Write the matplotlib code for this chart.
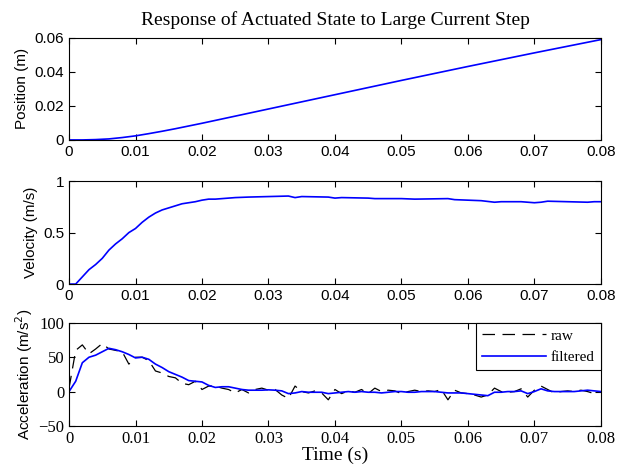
import numpy as np
import matplotlib
matplotlib.use("Agg")
import matplotlib.pyplot as plt

# time base (s)
t_pos = [0, 0.002, 0.004, 0.006, 0.008, 0.010, 0.012, 0.014, 0.016, 0.018, 0.020,
         0.025, 0.030, 0.035, 0.040, 0.045, 0.050, 0.055, 0.060, 0.065, 0.070, 0.075, 0.080]
position = [0, 0.0, 0.0002, 0.0006, 0.0014, 0.0024, 0.0037, 0.0051, 0.0066, 0.0082, 0.0098,
            0.0140, 0.0182, 0.0224, 0.0266, 0.0308, 0.0350, 0.0391, 0.0432, 0.0472, 0.0512, 0.0551, 0.0590]

t_vel = [0, 0.001, 0.002, 0.003, 0.004, 0.005, 0.006, 0.007, 0.008, 0.009, 0.010, 0.011,
         0.012, 0.013, 0.014, 0.015, 0.016, 0.017, 0.018, 0.019, 0.020, 0.021, 0.022, 0.023,
         0.025, 0.027, 0.030, 0.033, 0.034, 0.035, 0.039, 0.040, 0.041, 0.045, 0.046, 0.050,
         0.052, 0.057, 0.058, 0.060, 0.062, 0.064, 0.065, 0.068, 0.070, 0.071, 0.072, 0.075,
         0.078, 0.079, 0.080]
velocity = [0, 0, 0.07, 0.14, 0.19, 0.25, 0.33, 0.39, 0.44, 0.50, 0.54, 0.60,
            0.65, 0.69, 0.72, 0.74, 0.76, 0.78, 0.79, 0.80, 0.815, 0.825, 0.825, 0.83,
            0.84, 0.845, 0.85, 0.855, 0.84, 0.85, 0.845, 0.835, 0.84, 0.835, 0.83, 0.83,
            0.825, 0.83, 0.82, 0.815, 0.81, 0.795, 0.80, 0.80, 0.79, 0.795, 0.805, 0.80,
            0.795, 0.80, 0.80]

t_acc = [i / 1000 for i in range(81)]
acc_raw = [5, 60, 68, 55, 62, 70, 62, 60, 58, 40, 50, 50, 45, 30, 27, 22, 20, 12, 10, 15,
           3, 8, 8, 5, 3, -2, 3, -2, 3, 5, 2, 3, -5, -10, 8, 0, -2, 1, -2, -12,
           3, -3, 1, -1, 3, -3, 5, 0, 2, 1, -3, 0, 2, 0, 1, 0, 3, -12, 2, -2,
           -3, -5, -8, -5, 5, 0, -1, 0, 4, -8, 2, 8, 3, -2, 0, 1, 0, 2, 0, -3, 0]
acc_filt = [0, 15, 42, 50, 53, 58, 63, 61, 58, 54, 49, 50, 47, 40, 35, 29, 25, 21, 16, 15,
            14, 9, 6, 7, 7, 5, 3, 2, 2, 2, 2.5, 2, 1, -3, -2, 0, -1, -1, -1, -3,
            -2, -1, 0, -1, 0, -1, -1, -2, -1, 0, 0, -1, -1, 0, 0, 0, -1, -2, -2, -2,
            -3, -4, -5, -6, -1, -1, 0, 0, 1, -3, 0, 4, 1, 0, 0, 0, 0, 1, 2, 1, 0]

sans = "Liberation Sans"
serif = "Liberation Serif"
plt.rcParams['font.family'] = sans
plt.rcParams['font.size'] = 11

fig = plt.figure(figsize=(6.22, 4.68), dpi=100)
ax1 = fig.add_axes([0.111, 0.701, 0.855, 0.218])
ax2 = fig.add_axes([0.111, 0.393, 0.855, 0.220])
ax3 = fig.add_axes([0.111, 0.090, 0.855, 0.220])

xt = [0, 0.01, 0.02, 0.03, 0.04, 0.05, 0.06, 0.07, 0.08]
xlab = ['0', '0.01', '0.02', '0.03', '0.04', '0.05', '0.06', '0.07', '0.08']
for ax in (ax1, ax2, ax3):
    ax.set_xlim(0, 0.08)
    ax.set_xticks(xt)
    ax.tick_params(direction='in', top=True, right=True, length=4, width=0.8)
    for s in ax.spines.values():
        s.set_linewidth(0.8)

ax1.plot(t_pos, position, color='blue', lw=1.2)
ax1.set_ylim(0, 0.06)
ax1.set_yticks([0, 0.02, 0.04, 0.06])
ax1.set_yticklabels(['0', '0.02', '0.04', '0.06'])
ax1.set_xticklabels(xlab)
ax1.set_ylabel('Position (m)')
ax1.set_title('Response of Actuated State to Large Current Step',
              fontfamily=serif, fontsize=14, pad=9)

ax2.plot(t_vel, velocity, color='blue', lw=1.2)
ax2.set_ylim(0, 1)
ax2.set_yticks([0, 0.5, 1])
ax2.set_yticklabels(['0', '0.5', '1'])
ax2.set_xticklabels(xlab)
ax2.set_ylabel('Velocity (m/s)')

ax3.plot(t_acc, acc_raw, color='black', lw=0.9, ls=(0, (10, 6)), label='raw')
ax3.plot(t_acc, acc_filt, color='blue', lw=1.2, label='filtered')
ax3.set_ylim(-50, 100)
ax3.set_yticks([-50, 0, 50, 100])
ax3.set_yticklabels(['\u221250', '0', '50', '100'], fontfamily=serif, fontsize=12)
ax3.set_xticklabels(xlab, fontfamily=serif, fontsize=12)
ax3.set_ylabel('Acceleration (m/s$^2$)', labelpad=2)
ax3.set_xlabel('Time (s)', fontfamily=serif, fontsize=14, labelpad=0)
leg = ax3.legend(loc='upper right', prop={'family': serif, 'size': 11},
                 fancybox=False, edgecolor='black', framealpha=1,
                 handlelength=4.2, handletextpad=0.3, borderaxespad=0)
leg.get_frame().set_linewidth(0.8)

fig.savefig('out.png', dpi=100)
